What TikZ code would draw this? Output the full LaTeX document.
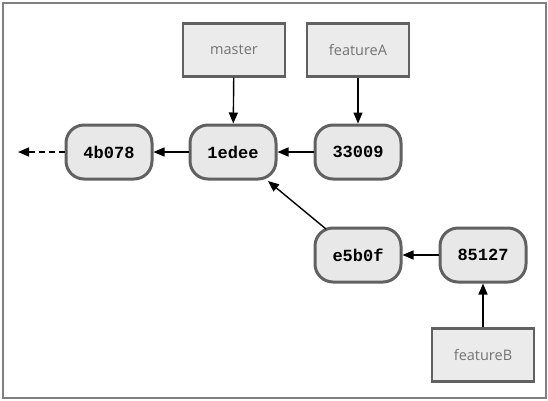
\documentclass[tikz,border=0pt]{standalone}
\usepackage{fontspec}
\setmainfont{Open Sans}
\newfontfamily\commitfont{Liberation Mono}
\usetikzlibrary{arrows.meta}
\begin{document}
\begin{tikzpicture}[x=1pt,y=-1pt,
  commit/.style={draw=black!62,line width=3pt,fill=black!9,rounded corners=18pt,
    minimum width=86pt,minimum height=54pt,inner sep=0pt,
    font=\commitfont\bfseries\fontsize{17}{17}\selectfont},
  branch/.style={draw=black!62,line width=2.2pt,fill=black!8,
    minimum width=102pt,minimum height=53pt,inner sep=0pt,text=black!55,
    font=\fontsize{14.5}{14.5}\selectfont},
  arr/.style={line width=1.4pt,-{Triangle[length=11pt,width=9pt]}}]
\useasboundingbox (0,0) rectangle (548,400);
\draw[black!50,line width=1.2pt] (3,3) rectangle (546,398);
\node[branch] (master) at (234,50) {master};
\node[branch] (featureA) at (358,50) {featureA};
\node[branch] (featureB) at (483,355) {featureB};
\node[commit] (c4b) at (109,152) {4b078};
\node[commit] (c1e) at (233,152) {1edee};
\node[commit] (c33) at (358,152) {33009};
\node[commit] (ce5) at (358,255) {e5b0f};
\node[commit] (c85) at (483,255) {85127};
\coordinate (prev) at (18,152);
\draw[arr] (master) -- (c1e);
\draw[arr] (featureA) -- (c33);
\draw[arr] (c33) -- (c1e);
\draw[arr] (c1e) -- (c4b);
\draw[arr] (c85) -- (ce5);
\draw[arr] (featureB) -- (c85);
\draw[arr] (326,229) -- (268,181);
\draw[arr,dashed,dash pattern=on 6pt off 4pt] (c4b) -- (prev);
\end{tikzpicture}
\end{document}
